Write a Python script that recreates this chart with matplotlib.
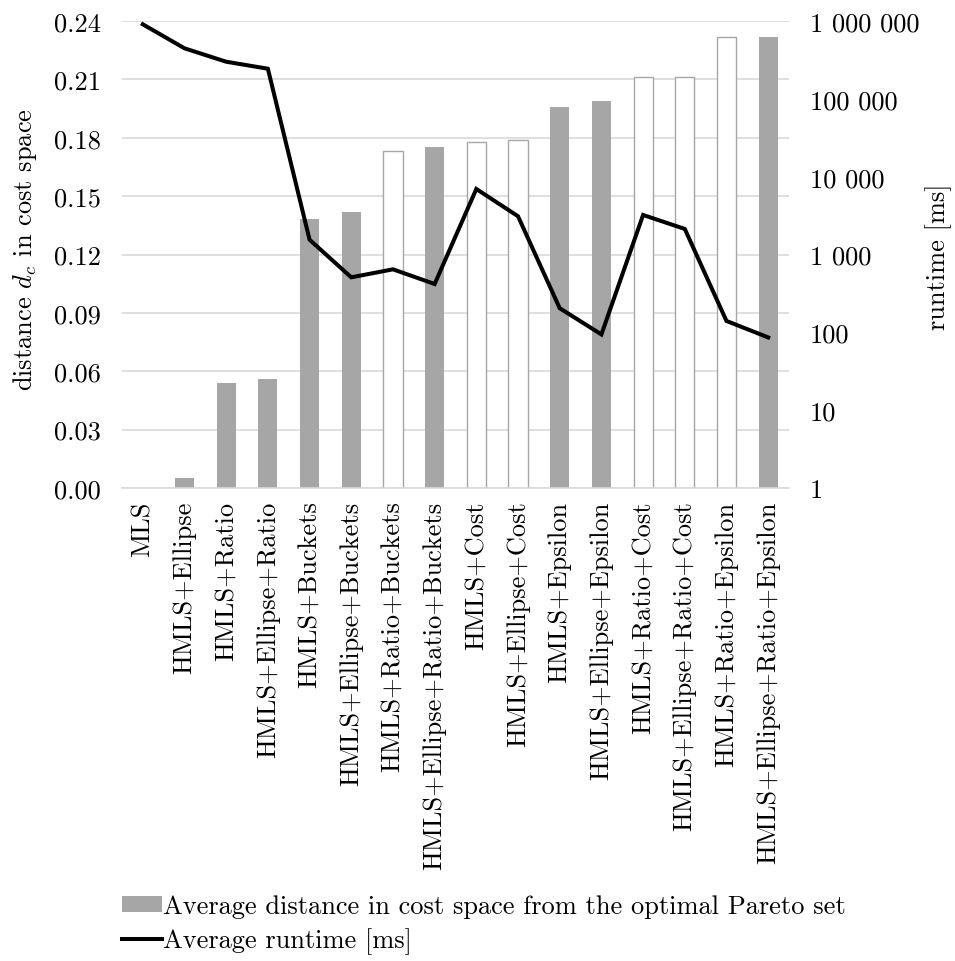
import matplotlib
matplotlib.use("Agg")
import matplotlib.pyplot as plt
from matplotlib.patches import Patch
from matplotlib.lines import Line2D
from matplotlib.ticker import FixedLocator, FuncFormatter, NullLocator

plt.rcParams['font.family'] = 'cmr10'
plt.rcParams['mathtext.fontset'] = 'cm'
plt.rcParams['axes.formatter.use_mathtext'] = True

categories = [
    "MLS", "HMLS+Ellipse", "HMLS+Ratio", "HMLS+Ellipse+Ratio",
    "HMLS+Buckets", "HMLS+Ellipse+Buckets", "HMLS+Ratio+Buckets",
    "HMLS+Ellipse+Ratio+Buckets", "HMLS+Cost", "HMLS+Ellipse+Cost",
    "HMLS+Epsilon", "HMLS+Ellipse+Epsilon", "HMLS+Ratio+Cost",
    "HMLS+Ellipse+Ratio+Cost", "HMLS+Ratio+Epsilon",
    "HMLS+Ellipse+Ratio+Epsilon",
]
distance = [0.0, 0.005, 0.054, 0.056, 0.138, 0.142, 0.173, 0.175,
            0.178, 0.179, 0.196, 0.199, 0.211, 0.211, 0.232, 0.232]
hollow = [False, False, False, False, False, False, True, False,
          True, True, False, False, True, True, True, False]
runtime = [908000, 446000, 300000, 244000, 1550, 509, 645, 418,
           6950, 3100, 204, 94, 3220, 2130, 140, 86]

left_ticks = [0.00, 0.03, 0.06, 0.09, 0.12, 0.15, 0.18, 0.21, 0.24]
right_ticks = [1, 10, 100, 1000, 10000, 100000, 1000000]

GRAY = "#a6a6a6"
GRID = "#d9d9d9"
FS = 19.0

fig = plt.figure(figsize=(9.55, 9.62), dpi=100)
ax = fig.add_axes([0.1277, 0.4917, 0.6985, 0.4854])

x = list(range(len(categories)))
face = ["white" if h else GRAY for h in hollow]
edge = [GRAY if h else "none" for h in hollow]
ax.bar(x, distance, width=0.46, color=face, edgecolor=edge, linewidth=1.0,
       zorder=2)

ax.set_xlim(-0.5, len(categories) - 0.5)
ax.set_ylim(0, 0.24)
ax.yaxis.set_major_locator(FixedLocator(left_ticks))
ax.yaxis.set_major_formatter(FuncFormatter(lambda v, p: f"{v:.2f}"))
ax.grid(axis="y", color=GRID, linewidth=1.2, zorder=0)
ax.set_axisbelow(True)
ax.set_xticks(x)
ax.set_xticklabels(categories, rotation=90, fontsize=FS)
ax.tick_params(axis="x", length=0, labelsize=FS, pad=9)
ax.tick_params(axis="y", length=0, labelsize=FS, pad=15)
for s in ["top", "left", "right"]:
    ax.spines[s].set_visible(False)
ax.spines["bottom"].set_color(GRID)
ax.spines["bottom"].set_linewidth(1.2)

ax2 = ax.twinx()
ax2.plot(x, runtime, color="black", linewidth=2.9, zorder=3,
         solid_joinstyle="miter")
ax2.set_yscale("log")
ax2.set_ylim(1, 1000000)
ax2.yaxis.set_major_locator(FixedLocator(right_ticks))
ax2.yaxis.set_minor_locator(NullLocator())
ax2.yaxis.set_major_formatter(
    FuncFormatter(lambda v, p: f"{int(round(v)):,}".replace(",", " ")))
ax2.tick_params(axis="y", length=0, labelsize=FS, pad=15)
for s in ["top", "left", "right", "bottom"]:
    ax2.spines[s].set_visible(False)

fig.text(25 / 955, 1 - 250 / 962, "distance $d_c$ in cost space",
         rotation=90, ha="center", va="center", fontsize=FS)
fig.text(939 / 955, 1 - 257 / 962, "runtime [ms]",
         rotation=90, ha="center", va="center", fontsize=FS)

handles = [
    Patch(facecolor=GRAY, edgecolor="none",
          label="Average distance in cost space from the optimal Pareto set"),
    Line2D([0], [0], color="black", linewidth=2.9,
           label="Average runtime [ms]"),
]
fig.legend(handles=handles, loc="upper left", bbox_to_anchor=(0.128, 0.069),
           frameon=False, fontsize=FS, handlelength=1.5, handleheight=0.6,
           handletextpad=0.05, labelspacing=0.35, borderaxespad=0,
           borderpad=0)

fig.savefig("out.png", dpi=100)
